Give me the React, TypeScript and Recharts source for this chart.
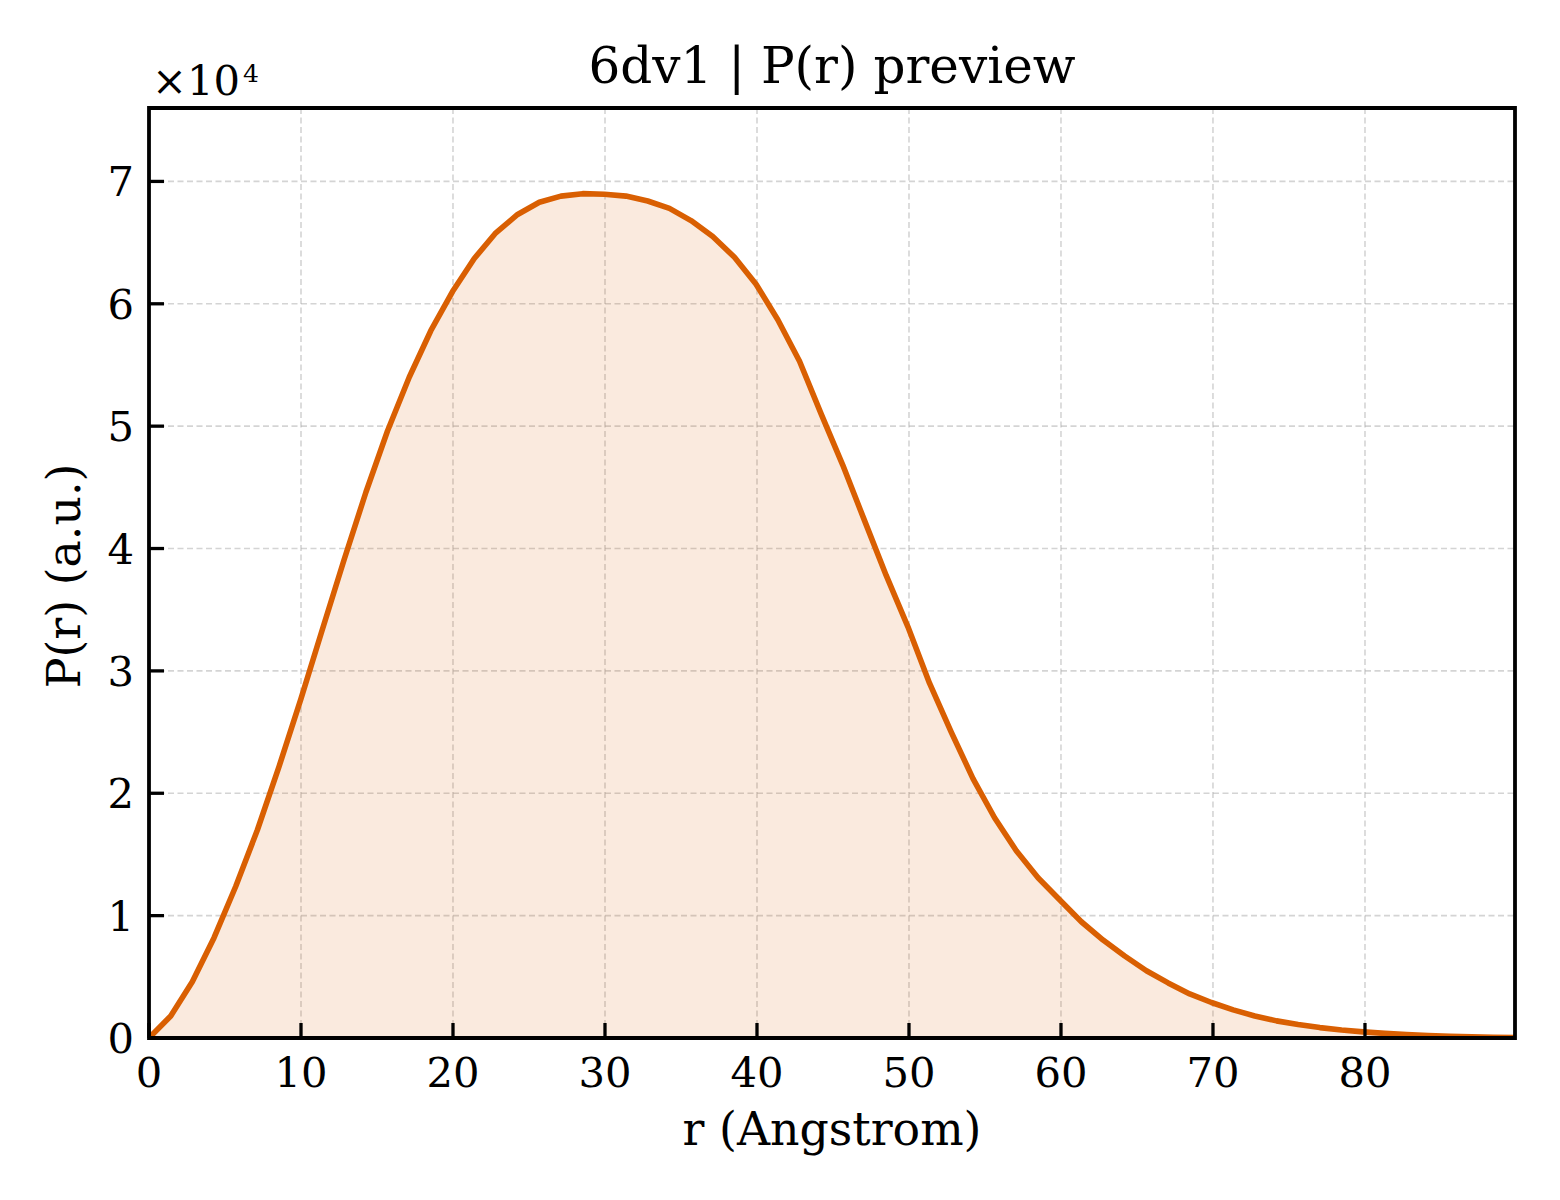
import React from 'react';
import { ComposedChart, Area, XAxis, YAxis, CartesianGrid, ReferenceArea } from 'recharts';

const rValues = [
  0, 1.43, 2.85, 4.28, 5.71, 7.13, 8.56, 9.99, 11.41, 12.84, 14.27, 15.69, 17.12, 18.54, 19.97, 21.4,
  22.82, 24.25, 25.68, 27.1, 28.53, 29.96, 31.38, 32.81, 34.24, 35.66, 37.09, 38.52, 39.94, 41.37, 42.8, 44.22,
  45.65, 47.07, 48.5, 49.93, 51.35, 52.78, 54.21, 55.63, 57.06, 58.49, 59.91, 61.34, 62.77, 64.19, 65.62, 67.05,
  68.47, 69.9, 71.33, 72.75, 74.18, 75.6, 77.03, 78.46, 79.88, 81.31, 82.74, 84.16, 85.59, 87.02, 88.44, 89.87,
];

const prValues = [
  0, 1800, 4600, 8200, 12400, 17000, 22200, 27700, 33400, 39100, 44600, 49600, 54000, 57800, 61000, 63700,
  65800, 67300, 68300, 68800, 69000, 68950, 68800, 68400, 67800, 66800, 65500, 63800, 61600, 58700, 55300, 51000,
  46800, 42300, 37800, 33600, 29000, 25000, 21200, 18000, 15300, 13100, 11300, 9500, 8000, 6700, 5500, 4500,
  3600, 2900, 2300, 1800, 1400, 1100, 850, 650, 500, 380, 280, 200, 140, 100, 60, 30,
];

const xTicks = [0, 10, 20, 30, 40, 50, 60, 70, 80];
const yTicks = [0, 10000, 20000, 30000, 40000, 50000, 60000, 70000];
const xDomain: [number, number] = [0, 89.87];
const yDomain: [number, number] = [0, 76000];

const titleText = '6dv1 | P(r) preview';
const xLabelText = 'r (Angstrom)';
const yLabelText = 'P(r) (a.u.)';

const data = rValues.map((r, i) => ({ r, pr: prValues[i] }));

const FONT = '"DejaVu Serif", serif';
const LINE = '#d95f02';
const TICK_LEN = 15;

const XTick = (props: any) => {
  const { x, y, payload } = props;
  return (
    <g>
      <line x1={x} x2={x} y1={y} y2={y - TICK_LEN} stroke="#000" strokeWidth={3.3} />
      <text x={x} y={y} dy={49} textAnchor="middle" fontFamily={FONT} fontSize={41.7} fill="#000">
        {String(payload.value)}
      </text>
    </g>
  );
};

const YTick = (props: any) => {
  const { x, y, payload } = props;
  return (
    <g>
      <line x1={x} x2={x + TICK_LEN} y1={y} y2={y} stroke="#000" strokeWidth={3.3} />
      <text x={x - 15} y={y} dy={15} textAnchor="end" fontFamily={FONT} fontSize={41.7} fill="#000">
        {String(payload.value / 10000)}
      </text>
    </g>
  );
};

export default function App() {
  return (
    <div style={{ position: 'absolute', left: 0, top: 0, width: 1560, height: 1200, background: '#fff' }}>
      <ComposedChart
        width={1560}
        height={1200}
        data={data}
        margin={{ top: 108, right: 45, bottom: 102, left: 89 }}
      >
        <CartesianGrid
          stroke="#b0b0b0"
          strokeOpacity={0.55}
          strokeWidth={1.6}
          strokeDasharray="6 3.5"
        />
        <XAxis
          dataKey="r"
          type="number"
          domain={xDomain}
          ticks={xTicks}
          interval={0}
          allowDataOverflow
          height={60}
          axisLine={false}
          tickLine={false}
          tickSize={0}
          tickMargin={0}
          tick={<XTick />}
        />
        <YAxis
          type="number"
          domain={yDomain}
          ticks={yTicks}
          interval={0}
          allowDataOverflow
          width={60}
          axisLine={false}
          tickLine={false}
          tickSize={0}
          tickMargin={0}
          tick={<YTick />}
        />
        <Area
          type="linear"
          dataKey="pr"
          stroke={LINE}
          strokeWidth={5.6}
          strokeLinejoin="round"
          fill={LINE}
          fillOpacity={0.13}
          dot={false}
          activeDot={false}
          baseValue={0}
          isAnimationActive={false}
        />
        <ReferenceArea
          x1={xDomain[0]}
          x2={xDomain[1]}
          y1={yDomain[0]}
          y2={yDomain[1]}
          fill="none"
          fillOpacity={0}
          stroke="#000"
          strokeWidth={3.8}
          ifOverflow="visible"
        />
      </ComposedChart>
      <svg
        width={1560}
        height={1200}
        style={{ position: 'absolute', left: 0, top: 0, pointerEvents: 'none' }}
      >
        <text x={832} y={83} textAnchor="middle" fontFamily={FONT} fontSize={50} fill="#000">
          {titleText}
        </text>
        <text x={832} y={1145} textAnchor="middle" fontFamily={FONT} fontSize={45.8} fill="#000">
          {xLabelText}
        </text>
        <text
          x={80}
          y={576}
          textAnchor="middle"
          fontFamily={FONT}
          fontSize={45.8}
          fill="#000"
          transform="rotate(-90 80 576)"
        >
          {yLabelText}
        </text>
        <text x={152} y={95} fontFamily={FONT} fontSize={41.7} fill="#000">
          <tspan>×10</tspan>
          <tspan dx={3} dy={-13} fontSize={25}>4</tspan>
        </text>
      </svg>
    </div>
  );
}
